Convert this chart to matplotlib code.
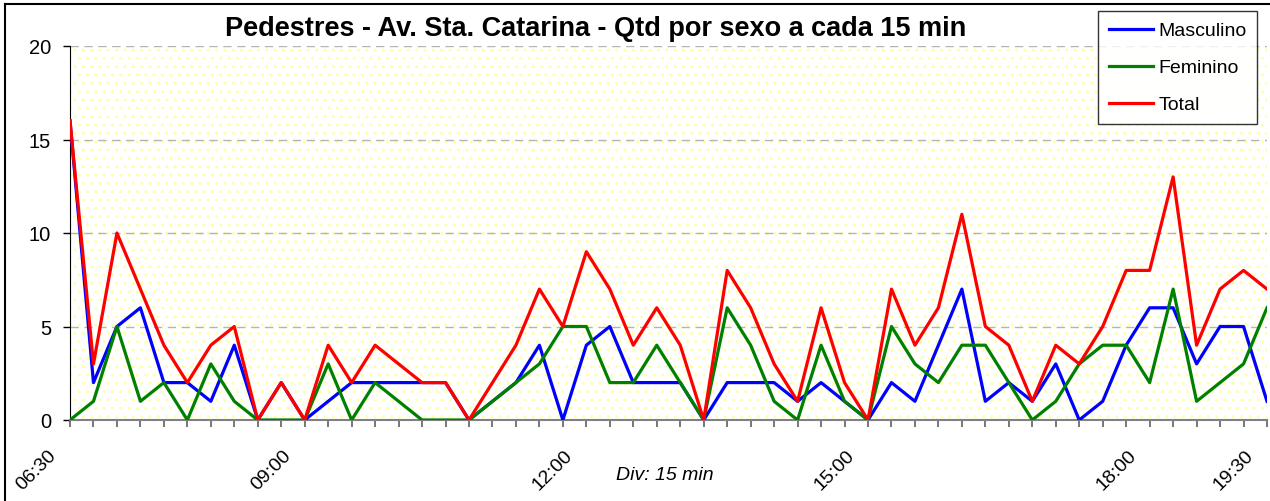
import matplotlib
matplotlib.use("Agg")
import matplotlib.pyplot as plt
from matplotlib.lines import Line2D
from matplotlib.patches import Rectangle
from matplotlib.transforms import ScaledTranslation

# --- データ（15分ごとの人数） ---
masculino = [16, 2, 5, 6, 2, 2, 1, 4, 0, 2, 0, 1, 2,
             2, 2, 2, 2, 0, 1, 2, 4, 0, 4, 5, 2,
             2, 2, 0, 2, 2, 2, 1, 2, 1, 0, 2, 1, 4,
             7, 1, 2, 1, 3, 0, 1, 4, 6, 6, 3, 5, 5, 1]
feminino = [0, 1, 5, 1, 2, 0, 3, 1, 0, 0, 0, 3, 0,
            2, 1, 0, 0, 0, 1, 2, 3, 5, 5, 2, 2,
            4, 2, 0, 6, 4, 1, 0, 4, 1, 0, 5, 3, 2,
            4, 4, 2, 0, 1, 3, 4, 4, 2, 7, 1, 2, 3, 6]
total = [16, 3, 10, 7, 4, 2, 4, 5, 0, 2, 0, 4, 2,
         4, 3, 2, 2, 0, 2, 4, 7, 5, 9, 7, 4,
         6, 4, 0, 8, 6, 3, 1, 6, 2, 0, 7, 4, 6,
         11, 5, 4, 1, 4, 3, 5, 8, 8, 13, 4, 7, 8, 7]

tick_idx = [0, 10, 22, 34, 46, 51]
tick_labels = ["06:30", "09:00", "12:00", "15:00", "18:00", "19:30"]

plt.rcParams["font.family"] = ["Liberation Sans", "DejaVu Sans"]
plt.rcParams["hatch.linewidth"] = 1.0

fig = plt.figure(figsize=(12.7, 5.02), dpi=100)
ax = fig.add_axes([70 / 1270, 1 - 421 / 502, 1197 / 1270, 374 / 502])

# --- 背景（薄い黄色の模様） ---
ax.set_facecolor("white")
ax.add_patch(Rectangle((0, 0), 1, 1, transform=ax.transAxes, facecolor="none",
                       edgecolor="#FFFFA8", hatch="..", linewidth=0, zorder=0))

x = list(range(len(total)))
ax.plot(x, masculino, color="#0000FF", lw=2.3, label="Masculino", zorder=3)
ax.plot(x, feminino, color="#008000", lw=2.3, label="Feminino", zorder=4)
ax.plot(x, total, color="#FF0000", lw=2.3, label="Total", zorder=5)

ax.set_xlim(0, len(total) - 1)
ax.set_ylim(0, 20)
ax.set_yticks([0, 5, 10, 15, 20])
ax.grid(axis="y", color="#B4B4B4", linestyle=(0, (6, 4)), linewidth=1)
ax.set_axisbelow(True)

# --- 軸 ---
for s in ["top", "right"]:
    ax.spines[s].set_visible(False)
ax.spines["left"].set_color("black")
ax.spines["bottom"].set_color("#808080")
ax.spines["bottom"].set_linewidth(1.5)

ax.tick_params(axis="y", direction="out", length=5, width=1, pad=8.5,
               labelsize=14.5, color="black")
ax.set_xticks(x, minor=True)
ax.set_xticks(tick_idx)
ax.set_xticklabels(tick_labels, rotation=45, ha="right", rotation_mode="anchor",
                   fontsize=14)
ax.tick_params(axis="x", which="both", direction="out", length=5, width=1.2,
               color="#606060", pad=14)
shift = ScaledTranslation(-0.22, 0, fig.dpi_scale_trans)
for lab in ax.get_xticklabels():
    lab.set_transform(lab.get_transform() + shift)

ax.set_title("Pedestres - Av. Sta. Catarina - Qtd por sexo a cada 15 min",
             fontsize=19.5, fontweight="bold", x=(596 - 70) / 1197, y=1.0, pad=8)
fig.text(665 / 1270, 1 - 476 / 502, "Div: 15 min", fontsize=14, style="italic",
         ha="center", va="center")

leg = ax.legend(loc="upper left", bbox_to_anchor=(1098 / 1270, 1 - 12 / 502),
                bbox_transform=fig.transFigure, fontsize=14, frameon=True,
                fancybox=False, borderpad=0.55, labelspacing=1.0,
                handlelength=2.3, handletextpad=0.25, borderaxespad=0)
leg.get_frame().set_edgecolor("black")
leg.get_frame().set_linewidth(1)

# --- 外枠 ---
fig.add_artist(Line2D([5 / 1270, 5 / 1270], [0, 1 - 5 / 502], color="black",
                      lw=1.5, transform=fig.transFigure))
fig.add_artist(Line2D([5 / 1270, 1], [1 - 5 / 502, 1 - 5 / 502], color="black",
                      lw=1.5, transform=fig.transFigure))

fig.savefig("out.png", dpi=100)
